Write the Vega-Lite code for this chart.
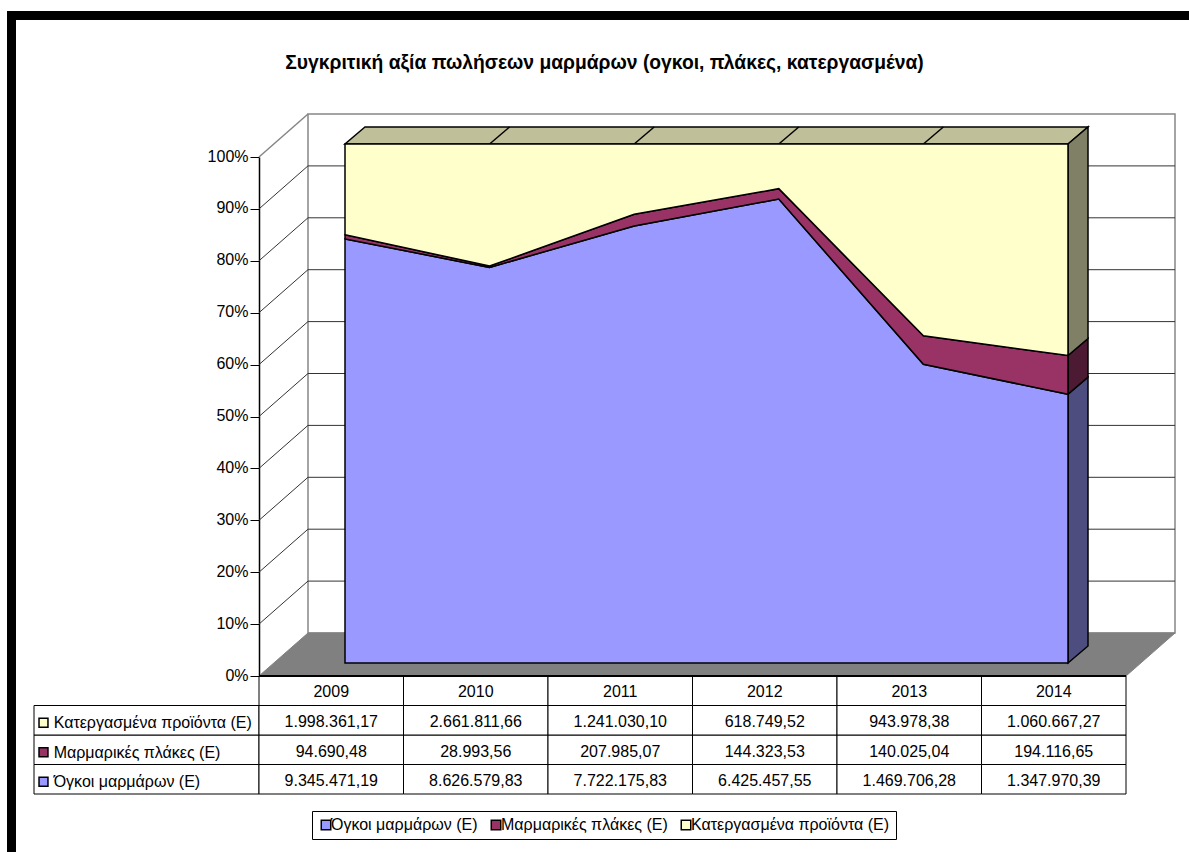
{"$schema":"https://vega.github.io/schema/vega-lite/v6.json","width":1189,"height":852,"padding":0,"autosize":"none","background":"white",
"title":{"text":"Συγκριτική αξία πωλήσεων μαρμάρων (ογκοι, πλάκες, κατεργασμένα)","anchor":"middle","dx":10,"offset":-73,"font":"Liberation Sans","fontSize":19.3,"fontWeight":"bold","color":"black"},
"config":{"font":"Liberation Sans","view":{"stroke":null}},
"datasets":{"sales":[
{"year":2009,"series":"Όγκοι μαρμάρων (Ε)","rank":1,"value":9345471.19,"label":"9.345.471,19"},
{"year":2010,"series":"Όγκοι μαρμάρων (Ε)","rank":1,"value":8626579.83,"label":"8.626.579,83"},
{"year":2011,"series":"Όγκοι μαρμάρων (Ε)","rank":1,"value":7722175.83,"label":"7.722.175,83"},
{"year":2012,"series":"Όγκοι μαρμάρων (Ε)","rank":1,"value":6425457.55,"label":"6.425.457,55"},
{"year":2013,"series":"Όγκοι μαρμάρων (Ε)","rank":1,"value":1469706.28,"label":"1.469.706,28"},
{"year":2014,"series":"Όγκοι μαρμάρων (Ε)","rank":1,"value":1347970.39,"label":"1.347.970,39"},
{"year":2009,"series":"Μαρμαρικές πλάκες (Ε)","rank":2,"value":94690.48,"label":"94.690,48"},
{"year":2010,"series":"Μαρμαρικές πλάκες (Ε)","rank":2,"value":28993.56,"label":"28.993,56"},
{"year":2011,"series":"Μαρμαρικές πλάκες (Ε)","rank":2,"value":207985.07,"label":"207.985,07"},
{"year":2012,"series":"Μαρμαρικές πλάκες (Ε)","rank":2,"value":144323.53,"label":"144.323,53"},
{"year":2013,"series":"Μαρμαρικές πλάκες (Ε)","rank":2,"value":140025.04,"label":"140.025,04"},
{"year":2014,"series":"Μαρμαρικές πλάκες (Ε)","rank":2,"value":194116.65,"label":"194.116,65"},
{"year":2009,"series":"Κατεργασμένα προϊόντα (Ε)","rank":3,"value":1998361.17,"label":"1.998.361,17"},
{"year":2010,"series":"Κατεργασμένα προϊόντα (Ε)","rank":3,"value":2661811.66,"label":"2.661.811,66"},
{"year":2011,"series":"Κατεργασμένα προϊόντα (Ε)","rank":3,"value":1241030.10,"label":"1.241.030,10"},
{"year":2012,"series":"Κατεργασμένα προϊόντα (Ε)","rank":3,"value":618749.52,"label":"618.749,52"},
{"year":2013,"series":"Κατεργασμένα προϊόντα (Ε)","rank":3,"value":943978.38,"label":"943.978,38"},
{"year":2014,"series":"Κατεργασμένα προϊόντα (Ε)","rank":3,"value":1060667.27,"label":"1.060.667,27"}
],
"header":[{"year":2009,"series":"Έτος","label":"2009"},{"year":2010,"series":"Έτος","label":"2010"},{"year":2011,"series":"Έτος","label":"2011"},{"year":2012,"series":"Έτος","label":"2012"},{"year":2013,"series":"Έτος","label":"2013"},{"year":2014,"series":"Έτος","label":"2014"}],
"grid":[{"share":0.1,"back":0.1829},{"share":0.2,"back":0.2829},{"share":0.3,"back":0.3829},{"share":0.4,"back":0.4829},{"share":0.5,"back":0.5829},{"share":0.6,"back":0.6829},{"share":0.7,"back":0.7829},{"share":0.8,"back":0.8829},{"share":0.9,"back":0.9829}]},
"resolve":{"scale":{"x":"independent","y":"independent","color":"independent"}},
"layer":[
{"data":{"values":[{"part":"wall"}]},"mark":{"type":"rect","fill":"transparent","stroke":"#868686","strokeWidth":1.5},
 "encoding":{"x":{"datum":0,"type":"quantitative","axis":null,"scale":{"domain":[0,1],"range":[308,1175]}},"x2":{"datum":1},"y":{"datum":0,"type":"quantitative","axis":null,"scale":{"domain":[0,1],"range":[633,114]}},"y2":{"datum":1}}},
{"data":{"name":"grid"},"mark":{"type":"rule","stroke":"#333333","strokeWidth":1},
 "encoding":{"x":{"datum":0,"type":"quantitative","axis":null,"scale":{"domain":[0,1],"range":[308,1175]}},"x2":{"datum":1},"y":{"field":"share","type":"quantitative","axis":null,"scale":{"domain":[0,1],"range":[633,114]}}}},
{"data":{"name":"grid"},"mark":{"type":"rule","stroke":"#333333","strokeWidth":1},
 "encoding":{"x":{"datum":0,"type":"quantitative","axis":null,"scale":{"domain":[0,1],"range":[259,308]}},"x2":{"datum":1},"y":{"field":"share","type":"quantitative","scale":{"domain":[0,1],"range":[676,157]},"axis":{"orient":"left","offset":-259,"values":[0,0.1,0.2,0.3,0.4,0.5,0.6,0.7,0.8,0.9,1],"format":".0%","title":null,"grid":false,"domainColor":"black","domainWidth":1.5,"tickColor":"black","tickSize":9,"tickWidth":1,"labelColor":"black","labelFontSize":16,"labelFont":"Liberation Sans","labelPadding":2,"labelOffset":-1}},"y2":{"field":"back"}}},
{"data":{"values":[{"share":1,"back":1.0829}]},"mark":{"type":"rule","stroke":"#868686","strokeWidth":1.5},
 "encoding":{"x":{"datum":0,"type":"quantitative","axis":null,"scale":{"domain":[0,1],"range":[259,308]}},"x2":{"datum":1},"y":{"field":"share","type":"quantitative","axis":null,"scale":{"domain":[0,1],"range":[676,157]}},"y2":{"field":"back"}}},
{"data":{"values":[{"depth":0,"left":0,"right":1},{"depth":1,"left":0.0565,"right":1.0565}]},"mark":{"type":"area","orient":"horizontal","fill":"#808080","stroke":"#808080","strokeWidth":1},
 "encoding":{"y":{"field":"depth","type":"quantitative","axis":null,"scale":{"domain":[0,1],"range":[676,633]}},"x":{"field":"left","type":"quantitative","axis":null,"scale":{"domain":[0,1],"range":[259,1126]}},"x2":{"field":"right"}}},
{"data":{"values":[{"depth":0,"left":2009,"right":2014},{"depth":1,"left":2009.138,"right":2014.138}]},"mark":{"type":"area","orient":"horizontal","fill":"#BFBF99","stroke":"black","strokeWidth":1.5},
 "encoding":{"y":{"field":"depth","type":"quantitative","axis":null,"scale":{"domain":[0,1],"range":[144,127]}},"x":{"field":"left","type":"quantitative","axis":null,"scale":{"domain":[2009,2014],"range":[345,1068]}},"x2":{"field":"right"}}},
{"data":{"values":[{"year":2010,"back":2010.138},{"year":2011,"back":2011.138},{"year":2012,"back":2012.138},{"year":2013,"back":2013.138}]},"mark":{"type":"rule","stroke":"black","strokeWidth":1.5},
 "encoding":{"x":{"field":"year","type":"quantitative","axis":null,"scale":{"domain":[2009,2014],"range":[345,1068]}},"x2":{"field":"back"},"y":{"datum":0,"type":"quantitative","axis":null,"scale":{"domain":[0,1],"range":[144,127]}},"y2":{"datum":1}}},
{"data":{"values":[
{"series":"Όγκοι μαρμάρων (Ε)","depth":0,"from":0,"to":0.5179},{"series":"Όγκοι μαρμάρων (Ε)","depth":1,"from":0.0328,"to":0.5507},
{"series":"Μαρμαρικές πλάκες (Ε)","depth":0,"from":0.5179,"to":0.5925},{"series":"Μαρμαρικές πλάκες (Ε)","depth":1,"from":0.5507,"to":0.6253},
{"series":"Κατεργασμένα προϊόντα (Ε)","depth":0,"from":0.5925,"to":1},{"series":"Κατεργασμένα προϊόντα (Ε)","depth":1,"from":0.6253,"to":1.0328}]},
 "mark":{"type":"area","stroke":"black","strokeWidth":1.5},
 "encoding":{"x":{"field":"depth","type":"quantitative","axis":null,"scale":{"domain":[0,1],"range":[1068,1088]}},"y":{"field":"from","type":"quantitative","axis":null,"scale":{"domain":[0,1],"range":[663,144]}},"y2":{"field":"to"},"color":{"field":"series","type":"nominal","legend":null,"scale":{"domain":["Όγκοι μαρμάρων (Ε)","Μαρμαρικές πλάκες (Ε)","Κατεργασμένα προϊόντα (Ε)"],"range":["#4D4D80","#4D1A33","#808066"]}}}},
{"data":{"name":"sales"},"mark":{"type":"area","stroke":"black","strokeWidth":1.5},
 "encoding":{"x":{"field":"year","type":"quantitative","axis":null,"scale":{"domain":[2009,2014],"range":[345,1068]}},"y":{"field":"value","type":"quantitative","stack":"normalize","axis":null,"scale":{"domain":[0,1],"range":[663,144]}},"order":{"field":"rank","sort":"ascending"},"color":{"field":"series","type":"nominal","scale":{"domain":["Όγκοι μαρμάρων (Ε)","Μαρμαρικές πλάκες (Ε)","Κατεργασμένα προϊόντα (Ε)"],"range":["#9999FF","#993366","#FFFFCC"]},"legend":{"orient":"none","legendX":312,"legendY":811,"direction":"horizontal","columns":3,"title":null,"symbolType":"square","symbolSize":90,"symbolStrokeColor":"black","symbolStrokeWidth":1.5,"symbolOpacity":1,"labelFontSize":16,"labelFont":"Liberation Sans","labelColor":"black","labelOffset":-3,"labelLimit":300,"columnPadding":10,"padding":6,"strokeColor":"black","fillColor":"white"}}}},
{"data":{"name":"sales"},"transform":[{"filter":"datum.year==2014"}],"mark":{"type":"rect","fill":"white","stroke":"black","strokeWidth":1},
 "encoding":{"x":{"datum":0,"type":"quantitative","axis":null,"scale":{"domain":[0,1],"range":[34,259]}},"x2":{"datum":1},"y":{"field":"series","type":"ordinal","axis":null,"scale":{"domain":["Έτος","Κατεργασμένα προϊόντα (Ε)","Μαρμαρικές πλάκες (Ε)","Όγκοι μαρμάρων (Ε)"],"range":[676,794],"paddingInner":0,"paddingOuter":0}}}},
{"data":{"name":"sales"},"mark":{"type":"rect","fill":"white","stroke":"black","strokeWidth":1},
 "encoding":{"x":{"field":"year","type":"ordinal","axis":null,"scale":{"range":[259,1126],"paddingInner":0,"paddingOuter":0}},"y":{"field":"series","type":"ordinal","axis":null,"scale":{"domain":["Έτος","Κατεργασμένα προϊόντα (Ε)","Μαρμαρικές πλάκες (Ε)","Όγκοι μαρμάρων (Ε)"],"range":[676,794],"paddingInner":0,"paddingOuter":0}}}},
{"data":{"name":"header"},"mark":{"type":"rect","fill":"white","stroke":"black","strokeWidth":1},
 "encoding":{"x":{"field":"year","type":"ordinal","axis":null,"scale":{"range":[259,1126],"paddingInner":0,"paddingOuter":0}},"y":{"field":"series","type":"ordinal","axis":null,"scale":{"domain":["Έτος","Κατεργασμένα προϊόντα (Ε)","Μαρμαρικές πλάκες (Ε)","Όγκοι μαρμάρων (Ε)"],"range":[676,794],"paddingInner":0,"paddingOuter":0}}}},
{"data":{"name":"header"},"transform":[{"filter":"datum.year==2009"}],"mark":{"type":"rule","stroke":"black","strokeWidth":2},
 "encoding":{"x":{"datum":0,"type":"quantitative","axis":null,"scale":{"domain":[0,1],"range":[259,1126]}},"x2":{"datum":1},"y":{"datum":0,"type":"quantitative","axis":null,"scale":{"domain":[0,1],"range":[676,677]}}}},
{"data":{"name":"sales"},"mark":{"type":"text","fontSize":16,"font":"Liberation Sans","fill":"black","baseline":"middle","dy":2},
 "encoding":{"x":{"field":"year","type":"ordinal","axis":null,"scale":{"range":[259,1126],"paddingInner":0,"paddingOuter":0}},"y":{"field":"series","type":"ordinal","axis":null,"scale":{"domain":["Έτος","Κατεργασμένα προϊόντα (Ε)","Μαρμαρικές πλάκες (Ε)","Όγκοι μαρμάρων (Ε)"],"range":[676,794],"paddingInner":0,"paddingOuter":0}},"text":{"field":"label"}}},
{"data":{"name":"header"},"mark":{"type":"text","fontSize":16,"font":"Liberation Sans","fill":"black","baseline":"middle","dy":1},
 "encoding":{"x":{"field":"year","type":"ordinal","axis":null,"scale":{"range":[259,1126],"paddingInner":0,"paddingOuter":0}},"y":{"field":"series","type":"ordinal","axis":null,"scale":{"domain":["Έτος","Κατεργασμένα προϊόντα (Ε)","Μαρμαρικές πλάκες (Ε)","Όγκοι μαρμάρων (Ε)"],"range":[676,794],"paddingInner":0,"paddingOuter":0}},"text":{"field":"label"}}},
{"data":{"name":"sales"},"transform":[{"filter":"datum.year==2014"}],"mark":{"type":"text","fontSize":16,"font":"Liberation Sans","fill":"black","baseline":"middle","align":"left","dy":3},
 "encoding":{"x":{"datum":0.0875,"type":"quantitative","axis":null,"scale":{"domain":[0,1],"range":[34,259]}},"y":{"field":"series","type":"ordinal","axis":null,"scale":{"domain":["Έτος","Κατεργασμένα προϊόντα (Ε)","Μαρμαρικές πλάκες (Ε)","Όγκοι μαρμάρων (Ε)"],"range":[676,794],"paddingInner":0,"paddingOuter":0}},"text":{"field":"series"}}},
{"data":{"name":"sales"},"transform":[{"filter":"datum.year==2014"}],"mark":{"type":"point","shape":"square","filled":true,"size":80,"stroke":"black","strokeWidth":1.5,"opacity":1,"yOffset":2.5},
 "encoding":{"x":{"datum":0.0422,"type":"quantitative","axis":null,"scale":{"domain":[0,1],"range":[34,259]}},"y":{"field":"series","type":"ordinal","axis":null,"scale":{"domain":["Έτος","Κατεργασμένα προϊόντα (Ε)","Μαρμαρικές πλάκες (Ε)","Όγκοι μαρμάρων (Ε)"],"range":[676,794],"paddingInner":0,"paddingOuter":0}},"fill":{"field":"series","type":"nominal","legend":null,"scale":{"domain":["Όγκοι μαρμάρων (Ε)","Μαρμαρικές πλάκες (Ε)","Κατεργασμένα προϊόντα (Ε)"],"range":["#9999FF","#993366","#FFFFCC"]}}}},
{"data":{"values":[{"part":"frame-left"}]},"mark":{"type":"rect","fill":"black"},
 "encoding":{"x":{"datum":0,"type":"quantitative","axis":null,"scale":{"domain":[0,1],"range":[7,16]}},"x2":{"datum":1},"y":{"datum":0,"type":"quantitative","axis":null,"scale":{"domain":[0,1],"range":[852,11]}},"y2":{"datum":1}}},
{"data":{"values":[{"part":"frame-top"}]},"mark":{"type":"rect","fill":"black"},
 "encoding":{"x":{"datum":0,"type":"quantitative","axis":null,"scale":{"domain":[0,1],"range":[7,1189]}},"x2":{"datum":1},"y":{"datum":0,"type":"quantitative","axis":null,"scale":{"domain":[0,1],"range":[20,11]}},"y2":{"datum":1}}}
]}
